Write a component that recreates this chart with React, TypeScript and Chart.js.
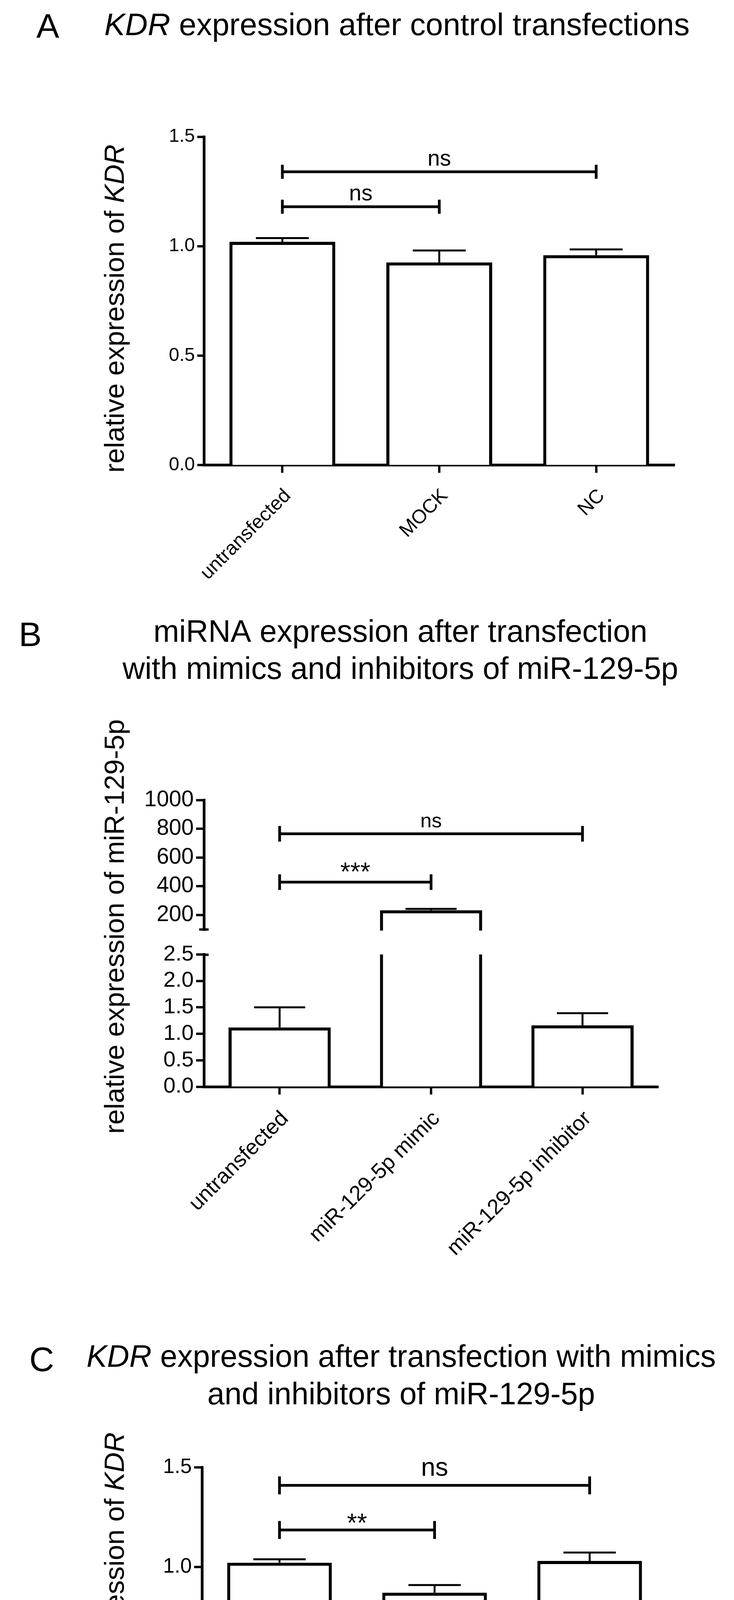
import React, { useEffect, useRef } from 'react';
import { Chart, registerables } from 'chart.js';

Chart.register(...registerables);

const FONT = '"Liberation Sans", Arial, Helvetica, sans-serif';

type Part = { t: string; i?: boolean };

// ---------- Panel A data ----------
const categoriesA = ['untransfected', 'MOCK', 'NC'];
const meanA = [1.02, 0.926, 0.959];
const semA = [0.017, 0.054, 0.026];
const yTicksA = [0, 0.5, 1.0, 1.5];
const sigPairsA = [[0, 1], [0, 2]];
const sigHeightsA = [1.18, 1.34];
const sigLabelsA = ['ns', 'ns'];
const titleA: Part[][] = [[{ t: 'KDR', i: true }, { t: ' expression after control transfections' }]];
const yLabelA: Part[] = [{ t: 'relative expression of ' }, { t: 'KDR', i: true }];

// ---------- Panel B data ----------
const categoriesB = ['untransfected', 'miR-129-5p mimic', 'miR-129-5p inhibitor'];
const meanB = [1.12, 232, 1.16];
const semB = [0.38, 10, 0.23];
const yTicksBLow = [0, 0.5, 1.0, 1.5, 2.0, 2.5];
const yTicksBHigh = [200, 400, 600, 800, 1000];
const yRangeBLow = [0, 2.5];
const yRangeBHigh = [90, 1000];
const sigPairsB = [[0, 1], [0, 2]];
const sigHeightsB = [428, 765];
const sigLabelsB = ['***', 'ns'];
const titleB: Part[][] = [
  [{ t: 'miRNA expression after transfection' }],
  [{ t: 'with mimics and inhibitors of miR-129-5p' }],
];
const yLabelB: Part[] = [{ t: 'relative expression of miR-129-5p' }];

// ---------- Panel C data ----------
const categoriesC = ['untransfected', 'miR-129-5p mimic', 'miR-129-5p inhibitor'];
const meanC = [1.022, 0.872, 1.031];
const semC = [0.017, 0.038, 0.042];
const yTicksC = [0, 0.5, 1.0, 1.5];
const sigPairsC = [[0, 1], [0, 2]];
const sigHeightsC = [1.186, 1.409];
const sigLabelsC = ['**', 'ns'];
const titleC: Part[][] = [
  [{ t: 'KDR', i: true }, { t: ' expression after transfection with mimics' }],
  [{ t: 'and inhibitors of miR-129-5p' }],
];
const yLabelC: Part[] = [{ t: 'relative expression of ' }, { t: 'KDR', i: true }];

// ---------- drawing helpers ----------
function fontOf(p: Part, size: number) {
  return `${p.i ? 'italic ' : ''}${size}px ${FONT}`;
}

function drawRich(ctx: CanvasRenderingContext2D, parts: Part[], x: number, y: number, size: number, align: 'left' | 'center') {
  ctx.fillStyle = '#000';
  ctx.textBaseline = 'alphabetic';
  ctx.textAlign = 'left';
  const widths = parts.map((p) => {
    ctx.font = fontOf(p, size);
    return ctx.measureText(p.t).width;
  });
  const total = widths.reduce((a, b) => a + b, 0);
  let cx = align === 'center' ? x - total / 2 : x;
  parts.forEach((p, k) => {
    ctx.font = fontOf(p, size);
    ctx.fillText(p.t, cx, y);
    cx += widths[k];
  });
}

interface PanelDef {
  letter: string;
  letterX: number;
  letterY: number;
  title: Part[][];
  titleX: number;
  titleYs: number[];
  titleAlign: 'left' | 'center';
  titleSize: number;
  yLabel: Part[];
  yLabelX: number;
  yLabelY: number;
  means: number[];
  sems: number[];
  sigPairs: number[][];
  sigHeights: number[];
  sigLabels: string[];
  sigFont: (label: string) => number;
  sigGap: (label: string) => number;
  sigTick: number;
  scaleFor: (v: number) => string;
  breakMarks?: boolean;
}

function decoPlugin(p: PanelDef) {
  return {
    id: 'deco',
    beforeDatasetDraw(chart: any, args: any) {
      const ys = args.meta.yScale;
      const ctx = chart.ctx as CanvasRenderingContext2D;
      ctx.save();
      ctx.beginPath();
      ctx.rect(0, ys.top, chart.width, ys.bottom - ys.top);
      ctx.clip();
    },
    afterDatasetDraw(chart: any) {
      chart.ctx.restore();
    },
    afterDatasetsDraw(chart: any) {
      const ctx = chart.ctx as CanvasRenderingContext2D;
      const bars = chart.getDatasetMeta(0).data;
      ctx.save();
      ctx.strokeStyle = '#000';
      ctx.lineCap = 'butt';
      // error bars (mean + SEM, upward)
      ctx.lineWidth = 5;
      p.means.forEach((m, i) => {
        const b = bars[i];
        const top = m + p.sems[i];
        const sc = chart.scales[p.scaleFor(top)];
        const y0 = sc.getPixelForValue(m);
        const y1 = sc.getPixelForValue(top);
        const hw = b.width / 4;
        ctx.beginPath();
        ctx.moveTo(b.x, y0);
        ctx.lineTo(b.x, y1);
        ctx.moveTo(b.x - hw, y1);
        ctx.lineTo(b.x + hw, y1);
        ctx.stroke();
      });
      // significance brackets
      ctx.lineWidth = 7;
      p.sigPairs.forEach(([a, c], k) => {
        const sc = chart.scales[p.scaleFor(p.sigHeights[k])];
        const y = sc.getPixelForValue(p.sigHeights[k]);
        const x1 = bars[a].x;
        const x2 = bars[c].x;
        ctx.beginPath();
        ctx.moveTo(x1, y);
        ctx.lineTo(x2, y);
        ctx.moveTo(x1, y - p.sigTick);
        ctx.lineTo(x1, y + p.sigTick);
        ctx.moveTo(x2, y - p.sigTick);
        ctx.lineTo(x2, y + p.sigTick);
        ctx.stroke();
        const lab = p.sigLabels[k];
        ctx.font = `${p.sigFont(lab)}px ${FONT}`;
        ctx.fillStyle = '#000';
        ctx.textAlign = 'center';
        ctx.textBaseline = 'alphabetic';
        const m = ctx.measureText(lab);
        const desc = m.actualBoundingBoxDescent || 0;
        ctx.fillText(lab, (x1 + x2) / 2, y - p.sigGap(lab) - desc);
      });
      ctx.restore();
    },
    afterDraw(chart: any) {
      const ctx = chart.ctx as CanvasRenderingContext2D;
      ctx.save();
      // panel letter
      ctx.font = `88px ${FONT}`;
      ctx.fillStyle = '#000';
      ctx.textAlign = 'left';
      ctx.textBaseline = 'alphabetic';
      ctx.fillText(p.letter, p.letterX, p.letterY);
      // title
      p.title.forEach((line, k) => drawRich(ctx, line, p.titleX, p.titleYs[k], p.titleSize, p.titleAlign));
      // y label
      ctx.save();
      ctx.translate(p.yLabelX, p.yLabelY);
      ctx.rotate(-Math.PI / 2);
      drawRich(ctx, p.yLabel, 0, 0, 71, 'center');
      ctx.restore();
      // axis break marks
      if (p.breakMarks) {
        const hi = chart.scales.yHigh;
        const lo = chart.scales.yLow;
        const ax = chart.chartArea.left;
        ctx.strokeStyle = '#000';
        ctx.lineWidth = 6;
        ctx.beginPath();
        ctx.moveTo(ax - 12, hi.bottom - 3);
        ctx.lineTo(ax + 12, hi.bottom - 3);
        ctx.moveTo(ax, lo.top + 1);
        ctx.lineTo(ax + 12, lo.top + 1);
        ctx.stroke();
      }
      ctx.restore();
    },
  };
}

function xScale(fontSize: number, height: number) {
  return {
    z: 1,
    grid: { offset: false, drawOnChartArea: false, tickLength: 20, tickWidth: 6, tickColor: '#000', color: '#000' },
    border: { color: '#000', width: 7 },
    ticks: {
      color: '#000',
      font: { family: FONT, size: fontSize },
      minRotation: 45,
      maxRotation: 45,
      padding: 30,
      labelOffset: 14,
      autoSkip: false,
    },
    afterFit: (s: any) => {
      s.height = height;
    },
  };
}

function yScale(min: number, max: number, ticks: number[], fontSize: number, tickLen: number, digits: number, extra: any = {}) {
  return {
    position: 'left',
    min,
    max,
    grid: { drawOnChartArea: false, tickLength: tickLen, tickWidth: 6, tickColor: '#000', color: '#000' },
    border: { color: '#000', width: 7 },
    ticks: {
      color: '#000',
      font: { family: FONT, size: fontSize },
      padding: 6,
      autoSkip: false,
      callback: (v: any) => Number(v).toFixed(digits),
    },
    afterBuildTicks: (s: any) => {
      s.ticks = ticks.map((v) => ({ value: v }));
    },
    afterFit: (s: any) => {
      s.width = 150;
    },
    ...extra,
  };
}

const baseOptions = {
  animation: false,
  responsive: false,
  devicePixelRatio: 1,
  events: [],
};

const barStyle = {
  backgroundColor: '#ffffff',
  borderColor: '#000000',
  borderWidth: 8,
  categoryPercentage: 1,
  barPercentage: 0.675,
};

const panelA: PanelDef = {
  letter: 'A',
  letterX: 93,
  letterY: 97,
  title: titleA,
  titleX: 267,
  titleYs: [90],
  titleAlign: 'left',
  titleSize: 80,
  yLabel: yLabelA,
  yLabelX: 317,
  yLabelY: 790,
  means: meanA,
  sems: semA,
  sigPairs: sigPairsA,
  sigHeights: sigHeightsA,
  sigLabels: sigLabelsA,
  sigFont: () => 57,
  sigGap: () => 15,
  sigTick: 18,
  scaleFor: () => 'y',
};

const panelB: PanelDef = {
  letter: 'B',
  letterX: 48,
  letterY: 104,
  title: titleB,
  titleX: 1025,
  titleYs: [93, 188],
  titleAlign: 'center',
  titleSize: 79,
  yLabel: yLabelB,
  yLabelX: 317,
  yLabelY: 822,
  means: meanB,
  sems: semB,
  sigPairs: sigPairsB,
  sigHeights: sigHeightsB,
  sigLabels: sigLabelsB,
  sigFont: (l) => (l.startsWith('*') ? 66 : 52),
  sigGap: (l) => (l.startsWith('*') ? 26 : 15),
  sigTick: 20,
  scaleFor: (v) => (v > yRangeBLow[1] ? 'yHigh' : 'yLow'),
  breakMarks: true,
};

const panelC: PanelDef = {
  letter: 'C',
  letterX: 75,
  letterY: 210,
  title: titleC,
  titleX: 1027,
  titleYs: [199, 295],
  titleAlign: 'center',
  titleSize: 79,
  yLabel: yLabelC,
  yLabelX: 317,
  yLabelY: 787,
  means: meanC,
  sems: semC,
  sigPairs: sigPairsC,
  sigHeights: sigHeightsC,
  sigLabels: sigLabelsC,
  sigFont: () => 66,
  sigGap: (l) => (l.startsWith('*') ? 18 : 24),
  sigTick: 23,
  scaleFor: () => 'y',
};

function buildA(): any {
  return {
    type: 'bar',
    data: { labels: categoriesA, datasets: [{ data: meanA, ...barStyle }] },
    options: {
      ...baseOptions,
      layout: { padding: { left: 372, right: 152, top: 350, bottom: 19.5 } },
      plugins: { legend: { display: false }, tooltip: { enabled: false } },
      scales: {
        x: xScale(50, 340),
        y: yScale(0, 1.5, yTicksA, 48, 17, 1),
      },
    },
    plugins: [decoPlugin(panelA)],
  };
}

function buildB(): any {
  return {
    type: 'bar',
    data: {
      labels: categoriesB,
      datasets: [
        { data: meanB, yAxisID: 'yLow', grouped: false, ...barStyle },
        { data: meanB, yAxisID: 'yHigh', grouped: false, ...barStyle },
      ],
    },
    options: {
      ...baseOptions,
      layout: { padding: { left: 372, right: 194, top: 498, bottom: 18 } },
      plugins: { legend: { display: false }, tooltip: { enabled: false } },
      scales: {
        x: xScale(55, 500),
        yLow: yScale(yRangeBLow[0], yRangeBLow[1], yTicksBLow, 56, 20, 1, { stack: 'brk', stackWeight: 338.7, weight: 1 }),
        yGap: {
          position: 'left',
          stack: 'brk',
          stackWeight: 60.8,
          weight: 2,
          grid: { display: false },
          border: { display: false },
          ticks: { display: false },
          afterFit: (s: any) => {
            s.width = 150;
          },
        },
        yHigh: yScale(yRangeBHigh[0], yRangeBHigh[1], yTicksBHigh, 57, 20, 0, { stack: 'brk', stackWeight: 334.5, weight: 3 }),
      },
    },
    plugins: [decoPlugin(panelB)],
  };
}

function buildC(): any {
  return {
    type: 'bar',
    data: { labels: categoriesC, datasets: [{ data: meanC, ...barStyle }] },
    options: {
      ...baseOptions,
      layout: { padding: { left: 367, right: 171, top: 456, bottom: 18.6 } },
      plugins: { legend: { display: false }, tooltip: { enabled: false } },
      scales: {
        x: xScale(55, 460),
        y: yScale(0, 1.5, yTicksC, 53, 20, 1),
      },
    },
    plugins: [decoPlugin(panelC)],
  };
}

function Panel({ top, height, build }: { top: number; height: number; build: () => any }) {
  const ref = useRef<HTMLCanvasElement>(null);
  useEffect(() => {
    const c = ref.current;
    if (!c) return;
    const chart = new Chart(c, build());
    return () => chart.destroy();
  }, []);
  return (
    <canvas
      ref={ref}
      width={1879}
      height={height}
      style={{ position: 'absolute', left: 0, top, width: 1879, height, display: 'block' }}
    />
  );
}

export default function App() {
  return (
    <div style={{ position: 'absolute', left: 0, top: 0, width: 1879, height: 5002, background: '#ffffff', overflow: 'hidden' }}>
      <Panel top={0} height={1550} build={buildA} />
      <Panel top={1550} height={1750} build={buildB} />
      <Panel top={3300} height={1702} build={buildC} />
    </div>
  );
}
